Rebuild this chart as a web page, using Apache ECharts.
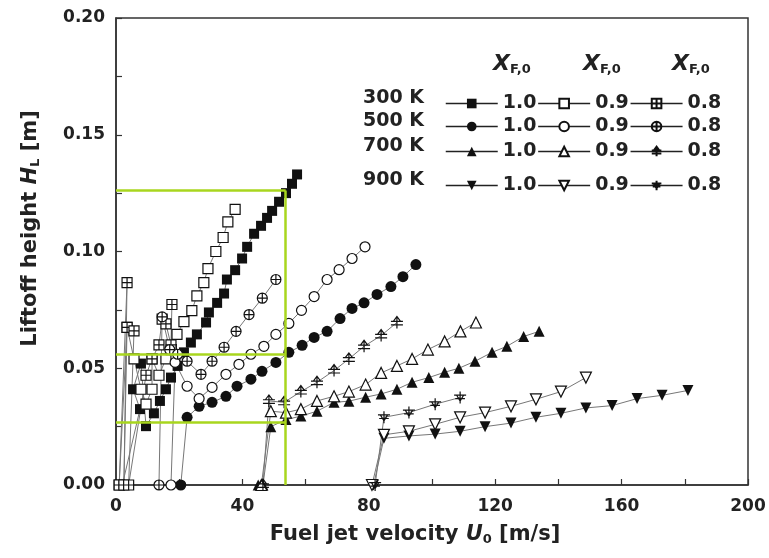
<!DOCTYPE html>
<html>
<head>
<meta charset="utf-8">
<script src="https://cdn.jsdelivr.net/npm/echarts@6/dist/echarts.min.js"></script>
<style>html,body{margin:0;padding:0;background:#fff}#container{width:769px;height:558px}</style>
</head>
<body>
<div id="container"></div>
<script>
// liftoff height H_L [m] vs fuel jet velocity U0 [m/s], pairs [U0, HL]
var t300_10 = [[2,0],[7.6,0.0325],[5.4,0.041],[7.9,0.052],[9.5,0.0252],[12,0.0307],[13.9,0.036],[15.8,0.041],[17.4,0.046],[19.5,0.051],[21.5,0.0568],[23.7,0.061],[25.6,0.0645],[28.5,0.0696],[29.4,0.0739],[32,0.078],[34.2,0.082],[35.1,0.088],[37.7,0.092],[39.9,0.097],[41.5,0.102],[43.7,0.1076],[45.9,0.111],[47.8,0.1144],[49.4,0.1174],[51.6,0.1213],[53.8,0.125],[55.7,0.129],[57.3,0.133]];
var t300_09 = [[1,0],[3.5,0.0675],[5.7,0.054],[7.9,0.041],[9.5,0.0346],[11.4,0.041],[11.4,0.054],[13.6,0.047],[15.8,0.054],[17.5,0.058],[19.3,0.0645],[21.5,0.070],[24,0.0747],[25.6,0.081],[27.8,0.0867],[29.1,0.0927],[31.6,0.100],[33.9,0.106],[35.4,0.1127],[37.7,0.118]];
var t300_08 = [[1,0],[3.5,0.0867],[2.5,0],[3.5,0.0675],[5.7,0.066],[4,0],[9.5,0.047],[11.4,0.054],[13.6,0.060],[14.6,0.071],[15.8,0.069],[17.4,0.060],[17.7,0.0773]];
var t500_10 = [[20.5,0],[22.5,0.029],[26.3,0.0337],[30.4,0.0354],[34.8,0.038],[38.3,0.0423],[42.7,0.0453],[46.2,0.0487],[50.6,0.0525],[54.7,0.0568],[58.9,0.0598],[62.7,0.0632],[66.8,0.0658],[70.9,0.0713],[74.7,0.0756],[78.5,0.078],[82.6,0.0816],[87,0.085],[90.8,0.0892],[94.9,0.0944]];
var t500_09 = [[17.4,0],[18.7,0.0525],[22.5,0.0423],[26.3,0.037],[30.4,0.0418],[34.8,0.0474],[38.9,0.0517],[42.7,0.056],[46.8,0.0594],[50.6,0.0645],[54.7,0.0692],[58.7,0.0748],[62.7,0.0807],[66.8,0.088],[70.6,0.0922],[74.7,0.097],[78.8,0.102]];
var t500_08 = [[13.6,0],[14.6,0.072],[17,0.058],[19.5,0.056],[22.5,0.053],[26.9,0.0474],[30.4,0.053],[34.2,0.059],[38,0.0658],[42.1,0.073],[46.3,0.080],[50.6,0.088]];
var t700_10 = [[45,0],[46.5,0],[49,0.025],[53.8,0.028],[58.5,0.0295],[63.6,0.0316],[69,0.0354],[73.7,0.0359],[79,0.0376],[83.9,0.039],[88.9,0.041],[93.7,0.044],[99,0.046],[104,0.0483],[108.5,0.050],[113.6,0.053],[119,0.0568],[123.7,0.0594],[129,0.0636],[133.9,0.0658]];
var t700_09 = [[46,0],[49,0.0316],[53.8,0.031],[58.5,0.0325],[63.6,0.036],[69,0.038],[73.7,0.040],[79,0.043],[83.9,0.048],[88.9,0.051],[93.7,0.054],[98.7,0.058],[104,0.0615],[109,0.0658],[113.9,0.0696]];
var t700_08 = [[46.5,0],[48.4,0.036],[53.2,0.0354],[58.5,0.040],[63.6,0.044],[69,0.049],[73.7,0.054],[78.5,0.0594],[83.9,0.064],[88.9,0.0696]];
var t900_10 = [[81.5,0],[84.8,0.020],[92.7,0.021],[101,0.0218],[108.9,0.023],[116.8,0.025],[125,0.0265],[132.9,0.029],[140.8,0.0307],[148.7,0.033],[157,0.034],[164.9,0.037],[172.8,0.0384],[181,0.0405]];
var t900_09 = [[81,0],[84.8,0.0215],[92.7,0.023],[101,0.026],[108.9,0.029],[116.8,0.031],[125,0.0337],[132.9,0.0367],[140.8,0.040],[148.7,0.046]];
var t900_08 = [[82,0],[84.8,0.029],[92.7,0.031],[101,0.0346],[108.9,0.0375]];

var temps = ['300 K', '500 K', '700 K', '900 K'];
var fractions = ['1.0', '0.9', '0.8'];
var guideY = [0.1261, 0.0559, 0.0270];
var guideX = 53.7;

var sq = 'path://M0,0L10,0L10,10L0,10Z';
var sqCross = 'path://M0,0L10,0L10,10L0,10Z M5,0L5,10 M0,5L10,5';
var circ = 'path://M0,5A5,5,0,1,1,10,5A5,5,0,1,1,0,5Z';
var circCross = 'path://M0,5A5,5,0,1,1,10,5A5,5,0,1,1,0,5Z M5,0L5,10 M0,5L10,5';
var tri = 'path://M5,0L10,9L0,9Z';
var triCross = 'path://M2,4L5,0L8,4 M5,0L5,10 M0,4L10,4 M0,7L10,7';
var itri = 'path://M0,0L10,0L5,9Z';
var itriCross = 'path://M0,3L10,3 M5,0L5,10 M1,6L9,6 M2,3L5,8L8,3';

var dom = document.getElementById('container');
var myChart = echarts.init(dom);

var filled = {color: '#111'};
var hollow = {color: '#fff', borderColor: '#111', borderWidth: 1.2};
var crossed = {color: 'rgba(0,0,0,0)', borderColor: '#111', borderWidth: 1.2};

function mk(name, data, symbol, size, style) {
    return {
        name: name,
        type: 'line',
        data: data,
        symbol: symbol,
        symbolSize: size,
        showAllSymbol: true,
        clip: false,
        animation: false,
        lineStyle: {color: '#777', width: 1},
        itemStyle: style,
        emphasis: {disabled: true}
    };
}

var series = [
    mk('300 K 1.0', t300_10, 'rect', 10, filled),
    mk('300 K 0.9', t300_09, sq, 10, hollow),
    mk('300 K 0.8', t300_08, sqCross, 10, hollow),
    mk('500 K 1.0', t500_10, 'circle', 11, filled),
    mk('500 K 0.9', t500_09, circ, 10, hollow),
    mk('500 K 0.8', t500_08, circCross, 10, hollow),
    mk('700 K 1.0', t700_10, tri, 11, filled),
    mk('700 K 0.9', t700_09, tri, 11, hollow),
    mk('700 K 0.8', t700_08, triCross, 12, crossed),
    mk('900 K 1.0', t900_10, itri, 11, filled),
    mk('900 K 0.9', t900_09, itri, 11, hollow),
    mk('900 K 0.8', t900_08, itriCross, 12, crossed)
];

// green guide lines
var guides = [];
for (var i = 0; i < guideY.length; i++) {
    guides.push([{coord: [0, guideY[i]]}, {coord: [guideX, guideY[i]]}]);
}
guides.push([{coord: [guideX, guideY[0]]}, {coord: [guideX, 0]}]);
series.push({
    type: 'line',
    data: [],
    silent: true,
    animation: false,
    markLine: {
        silent: true,
        animation: false,
        symbol: 'none',
        label: {show: false},
        lineStyle: {color: '#a8d61e', width: 2.5, type: 'solid'},
        emphasis: {disabled: true},
        data: guides
    }
});

var rowY = [100, 123, 148, 182];
var legends = [];
for (var r = 0; r < temps.length; r++) {
    legends.push({
        left: 445,
        top: rowY[r] - 6,
        orient: 'horizontal',
        padding: 0,
        itemGap: 1,
        itemWidth: 52,
        itemHeight: 12,
        selectedMode: false,
        lineStyle: {color: '#222', width: 1.5},
        textStyle: {fontFamily: 'DejaVu Sans', fontWeight: 'bold', fontSize: 19, color: '#222'},
        formatter: function (name) { return name.split(' ').pop(); },
        data: fractions.map(function (f) { return temps[r] + ' ' + f; })
    });
}

var graphics = [];
for (var r2 = 0; r2 < temps.length; r2++) {
    graphics.push({
        type: 'text', left: 363, top: rowY[r2] - 11,
        style: {text: temps[r2], font: 'bold 19px "DejaVu Sans"', fill: '#222'}
    });
}
var headX = [493, 583, 672];
for (var h = 0; h < headX.length; h++) {
    graphics.push({
        type: 'text', left: headX[h], top: 53,
        style: {
            text: '{x|X}{s|F,0}',
            rich: {
                x: {font: 'italic bold 22px "DejaVu Sans"', fill: '#222'},
                s: {font: 'bold 13px "DejaVu Sans"', fill: '#222', padding: [12, 0, 0, 0]}
            }
        }
    });
}

option = {
    backgroundColor: '#fff',
    animation: false,
    grid: {left: 116, right: 21, top: 18, bottom: 73, show: true, borderColor: '#333', borderWidth: 1.5, backgroundColor: 'transparent'},
    legend: legends,
    graphic: graphics,
    xAxis: {
        type: 'value',
        min: 0, max: 200, interval: 20,
        name: 'Fuel jet velocity {i|U}{s|0} [m/s]',
        nameLocation: 'middle',
        nameGap: 38,
        nameTextStyle: {
            fontFamily: 'DejaVu Sans', fontWeight: 'bold', fontSize: 21, color: '#222',
            padding: [0, 34, 0, 0],
            rich: {
                i: {fontFamily: 'DejaVu Sans', fontStyle: 'italic', fontWeight: 'bold', fontSize: 21, color: '#222'},
                s: {fontFamily: 'DejaVu Sans', fontWeight: 'bold', fontSize: 13, color: '#222', padding: [10, 0, 0, 0]}
            }
        },
        axisLine: {lineStyle: {color: '#333', width: 1.5}},
        axisTick: {inside: true, length: 6, lineStyle: {color: '#333', width: 1.2}},
        axisLabel: {
            margin: 13, color: '#222', fontFamily: 'DejaVu Sans', fontWeight: 'bold', fontSize: 17,
            formatter: function (v) { return v % 40 === 0 ? String(v) : ''; }
        },
        splitLine: {show: false}
    },
    yAxis: {
        type: 'value',
        min: 0, max: 0.2, interval: 0.025,
        name: 'Liftoff height {i|H}{s|L} [m]',
        nameLocation: 'middle',
        nameRotate: 90,
        nameGap: 74,
        nameTextStyle: {
            fontFamily: 'DejaVu Sans', fontWeight: 'bold', fontSize: 21, color: '#222',
            padding: [0, 0, 0, 46],
            rich: {
                i: {fontFamily: 'DejaVu Sans', fontStyle: 'italic', fontWeight: 'bold', fontSize: 21, color: '#222'},
                s: {fontFamily: 'DejaVu Sans', fontWeight: 'bold', fontSize: 13, color: '#222', padding: [10, 0, 0, 0]}
            }
        },
        axisLine: {lineStyle: {color: '#333', width: 1.5}},
        axisTick: {inside: true, length: 6, lineStyle: {color: '#333', width: 1.2}},
        axisLabel: {
            margin: 11, color: '#222', fontFamily: 'DejaVu Sans', fontWeight: 'bold', fontSize: 17,
            formatter: function (v) { return Math.round(v * 1000) % 50 === 0 ? v.toFixed(2) : ''; }
        },
        splitLine: {show: false}
    },
    series: series
};

if (option && typeof option === "object") {
    myChart.setOption(option, true);
}
</script>
</body>
</html>
